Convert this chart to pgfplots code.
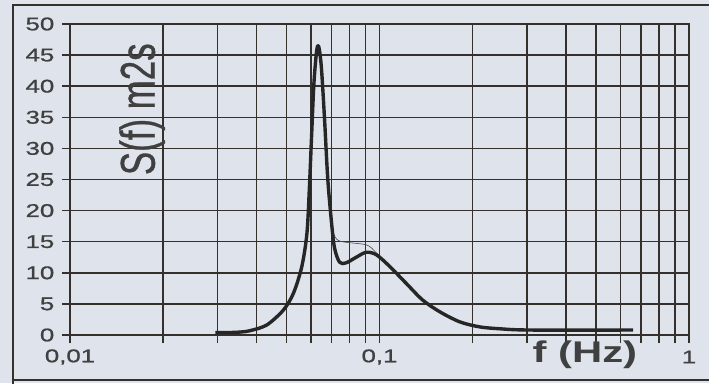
\documentclass[border=0pt]{standalone}
\usepackage{pgfplots}
\usepackage{fontspec}
\setmainfont{Liberation Sans}
\newfontfamily\heavy{Liberation Sans}[FakeBold=0.8]
\pgfplotsset{compat=1.18}
\definecolor{paper}{RGB}{223,228,236}
\definecolor{ink}{RGB}{52,48,44}
\definecolor{txt}{RGB}{64,64,64}

% main spectrum
\pgfplotstableread{
f S
0.0295 0.4
0.0330 0.4
0.0360 0.5
0.0382 0.7
0.0432 1.6
0.0489 4.0
0.0527 6.7
0.0561 11.0
0.0583 16.4
0.0594 24.0
0.0604 32.5
0.0614 40.5
0.0627 45.8
0.0637 46.3
0.0649 43.0
0.0664 35.0
0.0680 25.4
0.0697 19.0
0.0715 14.1
0.0743 11.7
0.0780 11.6
0.0841 12.5
0.0906 13.3
0.0977 12.9
0.1080 11.0
0.1220 8.3
0.1380 5.6
0.1570 3.7
0.1820 2.1
0.2110 1.3
0.2450 1.0
0.3060 0.8
0.6600 0.8
}\spectrum

% thin second trace that splits off between the peaks
\pgfplotstableread{
f S
0.0700 17.5
0.0736 15.2
0.0906 14.5
0.0977 13.2
0.1080 11.2
}\thintrace

\begin{document}
\begin{tikzpicture}[x=1bp,y=1bp]
\fill[paper] (0,0) rectangle (709,383);
\useasboundingbox (0,0) rectangle (709,383);
\draw[ink, line width=1.4bp] (13,-5) -- (13,378) -- (720,378);
\draw[ink, line width=1.4bp] (13,3) -- (720,3);

\begin{axis}[
    at={(70bp,48bp)}, anchor=south west,
    width=619bp, height=311bp, scale only axis,
    xmode=log, xmin=0.01, xmax=1,
    ymin=0, ymax=50,
    ytick={0,5,...,50},
    xtick={0.01,0.1,1},
    xticklabels={{0,01},{0,1},{1}},
    axis line style={ink, line width=1.5bp},
    grid=both,
    major grid style={ink, line width=1.5bp},
    minor grid style={ink, line width=1.5bp},
    tick style={ink, line width=1.5bp},
    tick align=outside,
    major tick length=8bp, minor tick length=8bp,
    xtick pos=bottom, ytick pos=left,
    tick label style={txt, font=\heavy\fontsize{18.5}{18.5}\selectfont, xscale=1.4},
    /pgf/number format/assume math mode=true,
    xticklabel style={anchor=center, yshift=-14bp},
    yticklabel style={anchor=east, xshift=-2bp},
    clip=false,
]
\addplot[ink!70!gray, line width=0.6bp, smooth] table[x=f, y=S] {\thintrace};
\addplot[black!85, line width=3.4bp, smooth, tension=0.5, line join=round] table[x=f, y=S] {\spectrum};

\node[txt, inner sep=0pt, rotate=90, yscale=1.4, font=\heavy\fontsize{35}{35}\selectfont]
  at (axis cs:0.0171,36.3) {S(f) m2s};
\node[txt, inner sep=0pt, xscale=1.4, font=\fontsize{30}{30}\selectfont\bfseries]
  at (axis cs:0.461,-3.2) {f (Hz)};
\end{axis}
\end{tikzpicture}
\end{document}
